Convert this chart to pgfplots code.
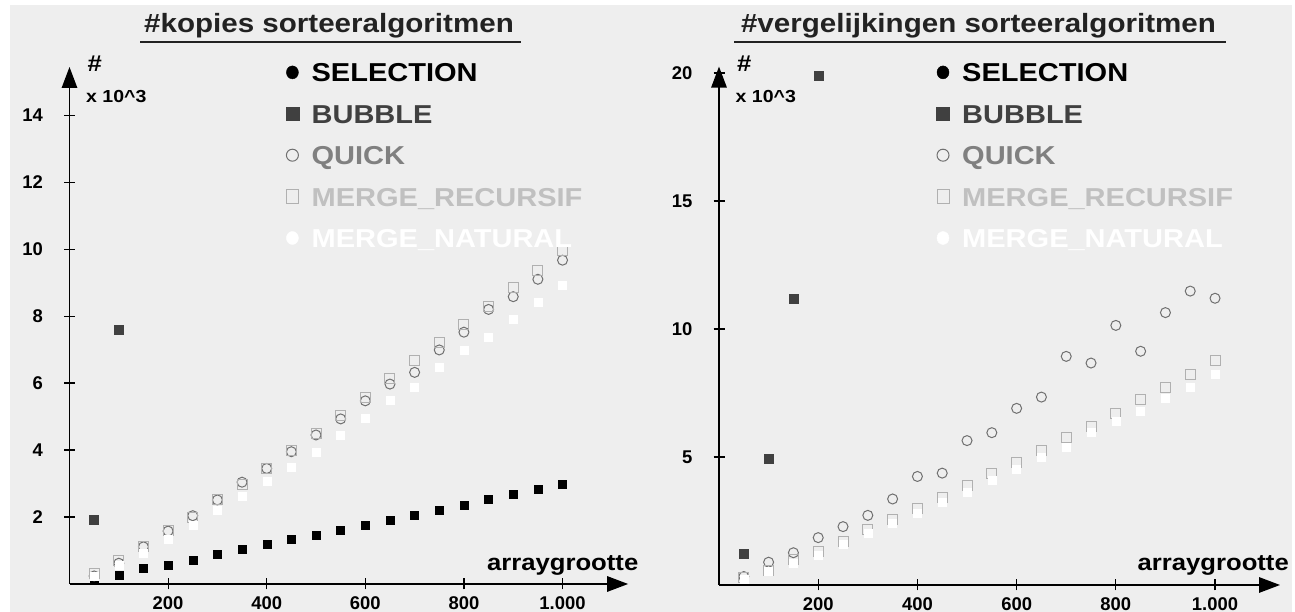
\documentclass[border=0pt]{standalone}
\usepackage{pgfplots}
\pgfplotsset{compat=1.18}
\usepackage{pgfplotstable}
\usepackage{fontspec}
\setmainfont{Liberation Sans}[FakeStretch=1.12]
\newfontfamily\tickfont{Liberation Sans}
\usetikzlibrary{arrows.meta}
\definecolor{bg}{HTML}{EEEEEE}
\definecolor{titlec}{HTML}{222222}
\definecolor{bubblec}{HTML}{404040}
\definecolor{quickc}{HTML}{707070}
\definecolor{quickt}{HTML}{808080}
\definecolor{recc}{HTML}{B0B0B0}
\definecolor{rect}{HTML}{C0C0C0}
\newcommand\fs[1]{\fontsize{#1}{#1}\selectfont\bfseries}
\newcommand\tfs{\tickfont\fontsize{18.5}{18.5}\selectfont\bfseries}

\pgfplotstableread{
x    sel   quick rec   nat
50   0.03  0.24  0.32  0.22
100  0.26  0.62  0.69  0.57
150  0.46  1.11  1.13  0.92
200  0.55  1.58  1.61  1.33
250  0.70  2.04  1.99  1.76
300  0.89  2.51  2.53  2.19
350  1.04  3.04  2.98  2.63
400  1.19  3.45  3.45  3.07
450  1.33  3.95  4.00  3.50
500  1.47  4.45  4.48  3.95
550  1.61  4.93  5.04  4.43
600  1.75  5.47  5.56  4.96
650  1.90  5.97  6.15  5.49
700  2.05  6.32  6.66  5.88
750  2.20  6.99  7.20  6.46
800  2.34  7.52  7.75  6.99
850  2.54  8.20  8.28  7.38
900  2.69  8.58  8.86  7.91
950  2.83  9.10  9.37  8.43
1000 2.98  9.67  9.97  8.93
}\kopies

\pgfplotstableread{
x    bub
50   1.93
100  7.60
}\kopiesbubble

\pgfplotstableread{
x    quick rec   nat
50   0.33  0.29  0.22
100  0.89  0.56  0.52
150  1.26  0.98  0.85
200  1.85  1.32  1.17
250  2.28  1.71  1.60
300  2.72  2.15  2.04
350  3.36  2.54  2.43
400  4.24  2.97  2.79
450  4.37  3.41  3.23
500  5.64  3.87  3.62
550  5.95  4.37  4.10
600  6.90  4.80  4.54
650  7.34  5.25  4.99
700  8.93  5.77  5.38
750  8.67  6.21  5.95
800  10.14 6.71  6.41
850  9.13  7.23  6.77
900  10.64 7.72  7.28
950  11.48 8.24  7.72
1000 11.20 8.75  8.24
}\vergel

\pgfplotstableread{
x    sel     bub
50   1.225   1.225
100  4.950   4.950
150  11.175  11.175
200  19.900  19.900
}\vergelsq

\pgfplotsset{
  chart/.style={
    scale only axis,
    axis lines=left,
    axis line style={black, line width=1.4bp, -{Triangle[length=21bp,width=15.5bp]}},
    xmin=0, ymin=0,
    tick align=center,
    major tick length=11bp,
    tick style={black, line width=1.2bp},
    xtick={200,400,600,800,1000},
    xticklabels={200,400,600,800,1.000},
    x tick label style={font=\tfs, inner sep=0pt, anchor=north, yshift=-6.5bp},
    y tick label style={font=\tfs, inner sep=0pt, anchor=east, xshift=-21bp},
    clip marker paths=true,
    legend cell align=left,
    legend style={draw=none, fill=none, anchor=north west, font=\fs{26},
      inner sep=0pt, column sep=12.5bp, row sep=22.4bp,
      nodes={inner sep=0pt, text height=19bp, text depth=0pt}},
  },
  selst/.style={only marks, mark=square*, mark size=4bp, black, mark options={draw=black, fill=black},
    legend image code/.code={\path (0,0) (13bp,0); \fill[black] (6.5bp,0) ellipse (6bp and 6.5bp);}},
  bubst/.style={only marks, mark=square*, mark size=4.5bp, bubblec, mark options={draw=bubblec, fill=bubblec},
    legend image code/.code={\path (0,0) (13bp,0); \fill[bubblec] (0,-6.5bp) rectangle (13bp,6.5bp);}},
  quickst/.style={only marks, mark=o, mark size=5bp, quickc, mark options={draw=quickc, line width=1bp},
    legend image code/.code={\path (0,0) (13bp,0); \draw[quickc, line width=1bp] (6.5bp,0) circle (6bp);}},
  recst/.style={only marks, mark=square, mark size=5bp, recc, mark options={draw=recc, line width=1bp},
    legend image code/.code={\path (0,0) (13bp,0); \draw[recc, line width=1bp] (0.5bp,-7bp) rectangle (12.5bp,7bp);}},
  natst/.style={only marks, mark=square*, mark size=4bp, white, mark options={draw=white, fill=white},
    legend image code/.code={\path (0,0) (13bp,0); \fill[white] (6.5bp,0) ellipse (6bp and 6.5bp);}},
}

\begin{document}
\begin{tikzpicture}[x=1bp,y=1bp]
\useasboundingbox (0,0) rectangle (1295,612);
\fill[white] (0,0) rectangle (1295,612);
\fill[bg] (10,0) rectangle (1292,607);

% titles
\node[font=\fs{26.5}, text=titlec, anchor=base, inner sep=0pt] at (329,579.7) {\#kopies sorteeralgoritmen};
\draw[titlec, line width=1.8bp] (140,570) -- (521,570);
\node[font=\fs{26.5}, text=titlec, anchor=base, inner sep=0pt] at (978.5,579.7) {\#vergelijkingen sorteeralgoritmen};
\draw[titlec, line width=1.8bp] (734,570) -- (1225.6,570);

% left chart
\begin{axis}[chart,
  at={(69.5bp,28bp)}, anchor=south west,
  width=558.6bp, height=517bp,
  xmax=1133, ymax=15.44,
  ytick={2,4,6,8,10,12,14},
  yticklabels={2,4,6,8,10,12,14},
  legend style={at={(0.3867,1.0083)}},
]
\addplot[selst] table[x=x, y=sel] {\kopies};
\addlegendentry{\textcolor{black}{SELECTION}}
\addplot[bubst] table[x=x, y=bub] {\kopiesbubble};
\addlegendentry{\textcolor{bubblec}{BUBBLE}}
\addplot[quickst] table[x=x, y=quick] {\kopies};
\addlegendentry{\textcolor{quickt}{QUICK}}
\addplot[recst] table[x=x, y=rec] {\kopies};
\addlegendentry{\textcolor{rect}{MERGE\_RECURSIF}}
\addplot[natst] table[x=x, y=nat] {\kopies};
\addlegendentry{\textcolor{white}{MERGE\_NATURAL}}
\end{axis}

% right chart
\begin{axis}[chart,
  at={(719bp,27bp)}, anchor=south west,
  width=561bp, height=518.4bp,
  xmax=1131, ymax=20.25,
  ytick={5,10,15,20},
  yticklabels={5,10,15,20},
  legend style={at={(0.387,1.0075)}},
]
\addplot[selst] table[x=x, y=sel] {\vergelsq};
\addlegendentry{\textcolor{black}{SELECTION}}
\addplot[bubst] table[x=x, y=bub] {\vergelsq};
\addlegendentry{\textcolor{bubblec}{BUBBLE}}
\addplot[quickst] table[x=x, y=quick] {\vergel};
\addlegendentry{\textcolor{quickt}{QUICK}}
\addplot[recst] table[x=x, y=rec] {\vergel};
\addlegendentry{\textcolor{rect}{MERGE\_RECURSIF}}
\addplot[natst] table[x=x, y=nat] {\vergel};
\addlegendentry{\textcolor{white}{MERGE\_NATURAL}}
\end{axis}

% axis annotations
\node[font=\fs{23}, text=black, anchor=north west, inner sep=0pt] at (87.5,556) {\#};
\node[font=\fs{17.5}, text=black, anchor=north west, inner sep=0pt] at (86,522) {x 10\textasciicircum 3};
\node[font=\fs{23}, text=black, anchor=base east, inner sep=0pt] at (638.5,41) {arraygrootte};
\node[font=\fs{23}, text=black, anchor=north west, inner sep=0pt] at (737,556) {\#};
\node[font=\fs{17.5}, text=black, anchor=north west, inner sep=0pt] at (735.5,522) {x 10\textasciicircum 3};
\node[font=\fs{23}, text=black, anchor=base east, inner sep=0pt] at (1289,41) {arraygrootte};
\end{tikzpicture}
\end{document}
